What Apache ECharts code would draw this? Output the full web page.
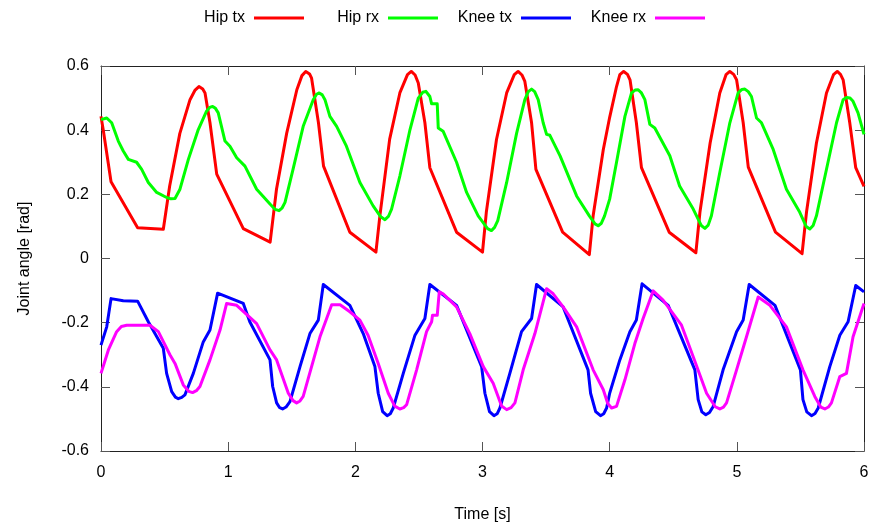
<!DOCTYPE html>
<html>
<head>
<meta charset="utf-8">
<script src="https://cdn.jsdelivr.net/npm/echarts@6/dist/echarts.min.js"></script>
<style>
html,body{margin:0;padding:0;background:#fff;}
#chart{width:877px;height:528px;}
</style>
</head>
<body>
<div id="chart"></div>
<script>
var seriesNames = ['Hip tx', 'Hip rx', 'Knee tx', 'Knee rx'];
var xTicks = [0, 1, 2, 3, 4, 5, 6];
var yTicks = [-0.6, -0.4, -0.2, 0, 0.2, 0.4, 0.6];

var hipTx = [[0,0.443],[0.018,0.40],[0.079,0.239],[0.288,0.096],[0.49,0.091],[0.54,0.226],[0.62,0.39],[0.70,0.495],[0.74,0.525],[0.77,0.536],[0.80,0.528],[0.818,0.516],[0.857,0.423],[0.91,0.263],[1.119,0.093],[1.33,0.051],[1.38,0.216],[1.46,0.39],[1.54,0.526],[1.58,0.57],[1.61,0.583],[1.64,0.575],[1.656,0.562],[1.71,0.423],[1.75,0.288],[1.957,0.082],[2.162,0.02],[2.193,0.133],[2.27,0.372],[2.35,0.516],[2.41,0.573],[2.44,0.583],[2.47,0.572],[2.495,0.547],[2.547,0.423],[2.586,0.283],[2.796,0.082],[3.0,0.02],[3.03,0.144],[3.11,0.371],[3.19,0.516],[3.25,0.573],[3.28,0.583],[3.31,0.572],[3.333,0.552],[3.386,0.423],[3.42,0.278],[3.63,0.082],[3.84,0.012],[3.87,0.133],[3.95,0.34],[4.0,0.44],[4.054,0.536],[4.08,0.573],[4.11,0.583],[4.14,0.574],[4.16,0.557],[4.21,0.423],[4.25,0.283],[4.468,0.082],[4.678,0.018],[4.71,0.145],[4.79,0.36],[4.866,0.516],[4.915,0.573],[4.945,0.583],[4.975,0.574],[4.998,0.557],[5.05,0.423],[5.09,0.285],[5.304,0.082],[5.513,0.015],[5.548,0.145],[5.626,0.36],[5.705,0.516],[5.76,0.573],[5.79,0.583],[5.815,0.574],[5.836,0.557],[5.888,0.423],[5.935,0.283],[6.0,0.225]];

var hipRx = [[0,0.433],[0.045,0.438],[0.084,0.423],[0.136,0.366],[0.175,0.335],[0.215,0.309],[0.28,0.30],[0.32,0.278],[0.372,0.237],[0.438,0.206],[0.516,0.19],[0.55,0.186],[0.582,0.187],[0.621,0.216],[0.687,0.309],[0.765,0.402],[0.83,0.459],[0.855,0.471],[0.878,0.474],[0.90,0.468],[0.922,0.454],[0.975,0.366],[1.014,0.35],[1.067,0.314],[1.132,0.288],[1.224,0.216],[1.329,0.17],[1.37,0.153],[1.40,0.149],[1.425,0.158],[1.447,0.175],[1.51,0.278],[1.59,0.412],[1.669,0.495],[1.695,0.512],[1.716,0.516],[1.74,0.51],[1.761,0.495],[1.80,0.443],[1.853,0.412],[1.93,0.35],[2.036,0.237],[2.14,0.164],[2.20,0.13],[2.233,0.121],[2.26,0.131],[2.285,0.154],[2.35,0.257],[2.43,0.402],[2.495,0.50],[2.53,0.518],[2.555,0.521],[2.586,0.505],[2.60,0.482],[2.644,0.482],[2.652,0.407],[2.69,0.397],[2.796,0.30],[2.875,0.206],[2.966,0.133],[3.04,0.093],[3.07,0.087],[3.095,0.097],[3.12,0.118],[3.19,0.237],[3.268,0.39],[3.333,0.495],[3.36,0.52],[3.386,0.528],[3.41,0.52],[3.438,0.495],[3.477,0.423],[3.504,0.387],[3.53,0.384],[3.61,0.32],[3.74,0.195],[3.84,0.133],[3.885,0.108],[3.91,0.102],[3.935,0.11],[3.96,0.133],[4.0,0.185],[4.054,0.30],[4.12,0.443],[4.172,0.516],[4.2,0.525],[4.224,0.526],[4.25,0.516],[4.277,0.495],[4.316,0.418],[4.355,0.407],[4.473,0.32],[4.55,0.226],[4.657,0.154],[4.72,0.103],[4.749,0.094],[4.775,0.104],[4.80,0.133],[4.866,0.268],[4.945,0.423],[5.01,0.516],[5.04,0.527],[5.063,0.528],[5.09,0.52],[5.115,0.505],[5.155,0.438],[5.194,0.423],[5.286,0.34],[5.39,0.216],[5.495,0.144],[5.545,0.1],[5.574,0.092],[5.6,0.103],[5.626,0.133],[5.705,0.278],[5.784,0.423],[5.836,0.495],[5.862,0.502],[5.89,0.5],[5.914,0.49],[5.953,0.454],[6.0,0.387]];

var kneeTx = [[0,-0.27],[0.045,-0.213],[0.079,-0.125],[0.175,-0.132],[0.288,-0.133],[0.372,-0.197],[0.49,-0.28],[0.516,-0.358],[0.556,-0.415],[0.585,-0.432],[0.608,-0.437],[0.635,-0.433],[0.66,-0.425],[0.726,-0.358],[0.804,-0.26],[0.857,-0.223],[0.917,-0.108],[1.119,-0.14],[1.17,-0.197],[1.329,-0.316],[1.35,-0.399],[1.381,-0.45],[1.405,-0.465],[1.428,-0.469],[1.455,-0.463],[1.486,-0.446],[1.565,-0.337],[1.643,-0.234],[1.709,-0.192],[1.748,-0.081],[1.957,-0.146],[2.062,-0.234],[2.154,-0.337],[2.18,-0.42],[2.215,-0.477],[2.25,-0.49],[2.275,-0.484],[2.298,-0.466],[2.377,-0.358],[2.469,-0.239],[2.547,-0.187],[2.586,-0.081],[2.796,-0.146],[2.993,-0.337],[3.019,-0.42],[3.055,-0.477],[3.09,-0.49],[3.115,-0.484],[3.137,-0.466],[3.215,-0.358],[3.307,-0.228],[3.386,-0.187],[3.425,-0.081],[3.634,-0.151],[3.83,-0.347],[3.85,-0.42],[3.89,-0.477],[3.928,-0.49],[3.953,-0.484],[3.976,-0.466],[4.0,-0.42],[4.08,-0.316],[4.159,-0.228],[4.21,-0.192],[4.255,-0.079],[4.46,-0.146],[4.67,-0.347],[4.696,-0.44],[4.725,-0.478],[4.756,-0.487],[4.785,-0.48],[4.814,-0.461],[4.892,-0.347],[4.998,-0.228],[5.05,-0.192],[5.097,-0.081],[5.30,-0.146],[5.50,-0.347],[5.52,-0.44],[5.55,-0.478],[5.587,-0.49],[5.615,-0.483],[5.64,-0.466],[5.731,-0.337],[5.81,-0.239],[5.875,-0.197],[5.935,-0.084],[6.0,-0.104]];

var kneeRx = [[0,-0.358],[0.058,-0.285],[0.123,-0.228],[0.16,-0.212],[0.202,-0.208],[0.385,-0.208],[0.451,-0.228],[0.542,-0.30],[0.582,-0.327],[0.647,-0.394],[0.69,-0.414],[0.72,-0.418],[0.75,-0.412],[0.778,-0.399],[0.857,-0.316],[0.936,-0.223],[0.988,-0.14],[1.067,-0.146],[1.224,-0.203],[1.329,-0.285],[1.381,-0.316],[1.473,-0.42],[1.51,-0.443],[1.538,-0.45],[1.565,-0.444],[1.59,-0.43],[1.656,-0.337],[1.722,-0.244],[1.814,-0.144],[1.88,-0.144],[1.957,-0.166],[2.036,-0.192],[2.10,-0.239],[2.18,-0.327],[2.259,-0.42],[2.31,-0.46],[2.35,-0.469],[2.38,-0.465],[2.403,-0.456],[2.482,-0.347],[2.56,-0.228],[2.60,-0.197],[2.607,-0.177],[2.644,-0.177],[2.66,-0.104],[2.69,-0.11],[2.796,-0.151],[2.90,-0.234],[3.006,-0.337],[3.084,-0.389],[3.15,-0.46],[3.19,-0.471],[3.225,-0.465],[3.255,-0.45],[3.32,-0.347],[3.412,-0.234],[3.504,-0.094],[3.556,-0.11],[3.634,-0.151],[3.74,-0.213],[3.87,-0.347],[3.95,-0.409],[3.985,-0.452],[4.015,-0.466],[4.054,-0.461],[4.12,-0.378],[4.198,-0.265],[4.263,-0.187],[4.342,-0.101],[4.42,-0.13],[4.565,-0.208],[4.657,-0.306],[4.762,-0.42],[4.83,-0.462],[4.866,-0.469],[4.895,-0.463],[4.919,-0.45],[4.998,-0.347],[5.076,-0.244],[5.168,-0.12],[5.26,-0.146],[5.39,-0.213],[5.52,-0.347],[5.613,-0.43],[5.66,-0.463],[5.692,-0.469],[5.72,-0.463],[5.744,-0.45],[5.81,-0.368],[5.862,-0.358],[5.914,-0.244],[6.0,-0.14]];

var colors = ['#ff0000', '#00ff00', '#0000ff', '#ff00ff'];
var seriesData = [hipTx, hipRx, kneeTx, kneeRx];
var legendRight = [573, 439, 306, 172];

var FONT = 'Liberation Sans, Arial, sans-serif';
var AXIS_COLOR = '#222';

var chart = echarts.init(document.getElementById('chart'), null, {renderer: 'canvas'});

function fmt(v) { return String(+v.toFixed(1)); }

var axisCommon = {
  type: 'value',
  axisLine: {show: true, onZero: false, lineStyle: {color: AXIS_COLOR, width: 1}},
  axisTick: {show: true, inside: true, length: 9, lineStyle: {color: '#555', width: 1}},
  splitLine: {show: false}
};

var option = {
  animation: false,
  backgroundColor: '#fff',
  textStyle: {fontFamily: FONT},
  grid: {left: 101, right: 13, top: 66, bottom: 77, containLabel: false},
  legend: seriesNames.map(function (n, i) {
    return {
      data: [n],
      right: legendRight[i],
      top: 10,
      padding: 0,
      align: 'right',
      icon: 'rect',
      itemWidth: 50,
      itemHeight: 3,
      textStyle: {fontFamily: FONT, fontSize: 16, color: '#000', padding: [0, 4, 0, 0]},
      selectedMode: false
    };
  }),
  xAxis: [
    Object.assign({}, axisCommon, {
      position: 'bottom', min: xTicks[0], max: xTicks[xTicks.length - 1], interval: 1,
      name: 'Time [s]', nameLocation: 'middle', nameGap: 56,
      nameTextStyle: {fontFamily: FONT, fontSize: 16, color: '#000'},
      axisLabel: {show: true, margin: 14, fontFamily: FONT, fontSize: 16, color: '#000', formatter: fmt}
    }),
    Object.assign({}, axisCommon, {
      position: 'top', min: xTicks[0], max: xTicks[xTicks.length - 1], interval: 1,
      axisLabel: {show: false}
    })
  ],
  yAxis: [
    Object.assign({}, axisCommon, {
      position: 'left', min: yTicks[0], max: yTicks[yTicks.length - 1], interval: 0.2,
      name: 'Joint angle [rad]', nameLocation: 'middle', nameGap: 68, nameRotate: 90,
      nameTextStyle: {fontFamily: FONT, fontSize: 16, color: '#000'},
      axisLabel: {show: true, margin: 12, fontFamily: FONT, fontSize: 16, color: '#000', formatter: fmt}
    }),
    Object.assign({}, axisCommon, {
      position: 'right', min: yTicks[0], max: yTicks[yTicks.length - 1], interval: 0.2,
      axisLabel: {show: false}
    })
  ],
  series: seriesNames.map(function (n, i) {
    return {
      name: n,
      type: 'line',
      xAxisIndex: 0,
      yAxisIndex: 0,
      data: seriesData[i],
      showSymbol: false,
      symbol: 'none',
      smooth: false,
      clip: true,
      color: colors[i],
      lineStyle: {color: colors[i], width: 3, join: 'round'},
      emphasis: {disabled: true}
    };
  })
};

chart.setOption(option);
</script>
</body>
</html>
